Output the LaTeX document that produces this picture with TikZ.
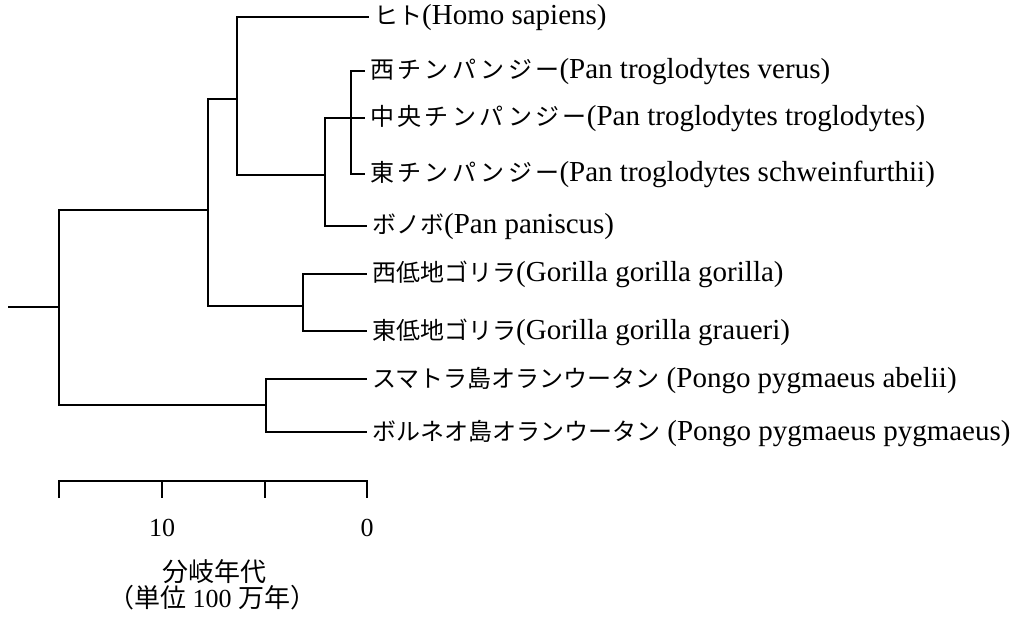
\documentclass[tikz,border=0pt]{standalone}
\usepackage{fontspec}
\setmainfont{Liberation Serif}
\newfontfamily\jp{Noto Sans CJK JP}
\newfontfamily\jpls{Noto Sans CJK JP}[LetterSpace=14]
\newcommand\jtext[1]{{\fontsize{24}{30}\selectfont\jp #1}}
\newcommand\jwide[1]{{\fontsize{24}{30}\selectfont\jpls #1}}
\begin{document}
\begin{tikzpicture}[x=1pt,y=-1pt,
  branch/.style={line width=1.5pt,line cap=rect},
  leaf/.style={anchor=west,inner xsep=6pt,inner ysep=0pt,text height=21pt,text depth=5pt,font=\fontsize{29}{32}\selectfont},
  axislabel/.style={inner sep=0pt,font=\fontsize{26}{30}\selectfont},
  numlabel/.style={inner sep=0pt,font=\fontsize{26}{30}\selectfont}]
\fill[white] (0,0) rectangle (1019,617);
\useasboundingbox (0,0) rectangle (1019,617);
% leaves
\node[leaf] (hs) at (368,17) {\jtext{ヒト}(Homo sapiens)};
\node[leaf] (wc) at (364,71) {\jwide{西チンパンジー}(Pan troglodytes verus)};
\node[leaf] (cc) at (364,118) {\jwide{中央チンパンジー}(Pan troglodytes troglodytes)};
\node[leaf] (ec) at (364,174) {\jwide{東チンパンジー}(Pan troglodytes schweinfurthii)};
\node[leaf] (pp) at (366,226) {\jtext{ボノボ}(Pan paniscus)};
\node[leaf] (wg) at (366,274) {\jtext{西低地ゴリラ}(Gorilla gorilla gorilla)};
\node[leaf] (eg) at (366,331) {\jtext{東低地ゴリラ}(Gorilla gorilla graueri)};
\node[leaf] (so) at (366,379) {\jtext{スマトラ島オランウータン} (Pongo pygmaeus abelii)};
\node[leaf] (bo) at (366,432) {\jtext{ボルネオ島オランウータン} (Pongo pygmaeus pygmaeus)};
% internal nodes
\coordinate (Rstub) at (9,307);
\coordinate (R) at (59,307);
\coordinate (HG) at (208,210);
\coordinate (HP) at (237,99);
\coordinate (PAN) at (325,175);
\coordinate (CH) at (351,118);
\coordinate (GO) at (303,306);
\coordinate (OR) at (266,405);
% tree
\draw[branch] (Rstub) -- (R);
\draw[branch] (R) |- (HG);
\draw[branch] (R) |- (OR);
\draw[branch] (HG) |- (HP);
\draw[branch] (HG) |- (GO);
\draw[branch] (HP) |- (hs.west);
\draw[branch] (HP) |- (PAN);
\draw[branch] (PAN) |- (cc.west);
\draw[branch] (PAN) |- (pp.west);
\draw[branch] (CH) |- (wc.west);
\draw[branch] (CH) |- (ec.west);
\draw[branch] (GO) |- (wg.west);
\draw[branch] (GO) |- (eg.west);
\draw[branch] (OR) |- (so.west);
\draw[branch] (OR) |- (bo.west);
% scale
\coordinate (a15) at (59,481);
\coordinate (a10) at (162,481);
\coordinate (a5) at (265,481);
\coordinate (a0) at (367,481);
\draw[branch,line cap=butt] (a15) ++(0,17) -- (a15) -- (a0) -- ++(0,17);
\draw[branch,line cap=butt] (a10) -- ++(0,17);
\draw[branch,line cap=butt] (a5) -- ++(0,17);
\node[numlabel] (l10) at (162,528) {10};
\node[numlabel] (l0) at (367,528) {0};
\node[axislabel] (t1) at (214,572) {\jp 分岐年代};
\node[axislabel] (t2) at (212,598) {{\jp （単位} 100 {\jp 万年）}};
\end{tikzpicture}
\end{document}
